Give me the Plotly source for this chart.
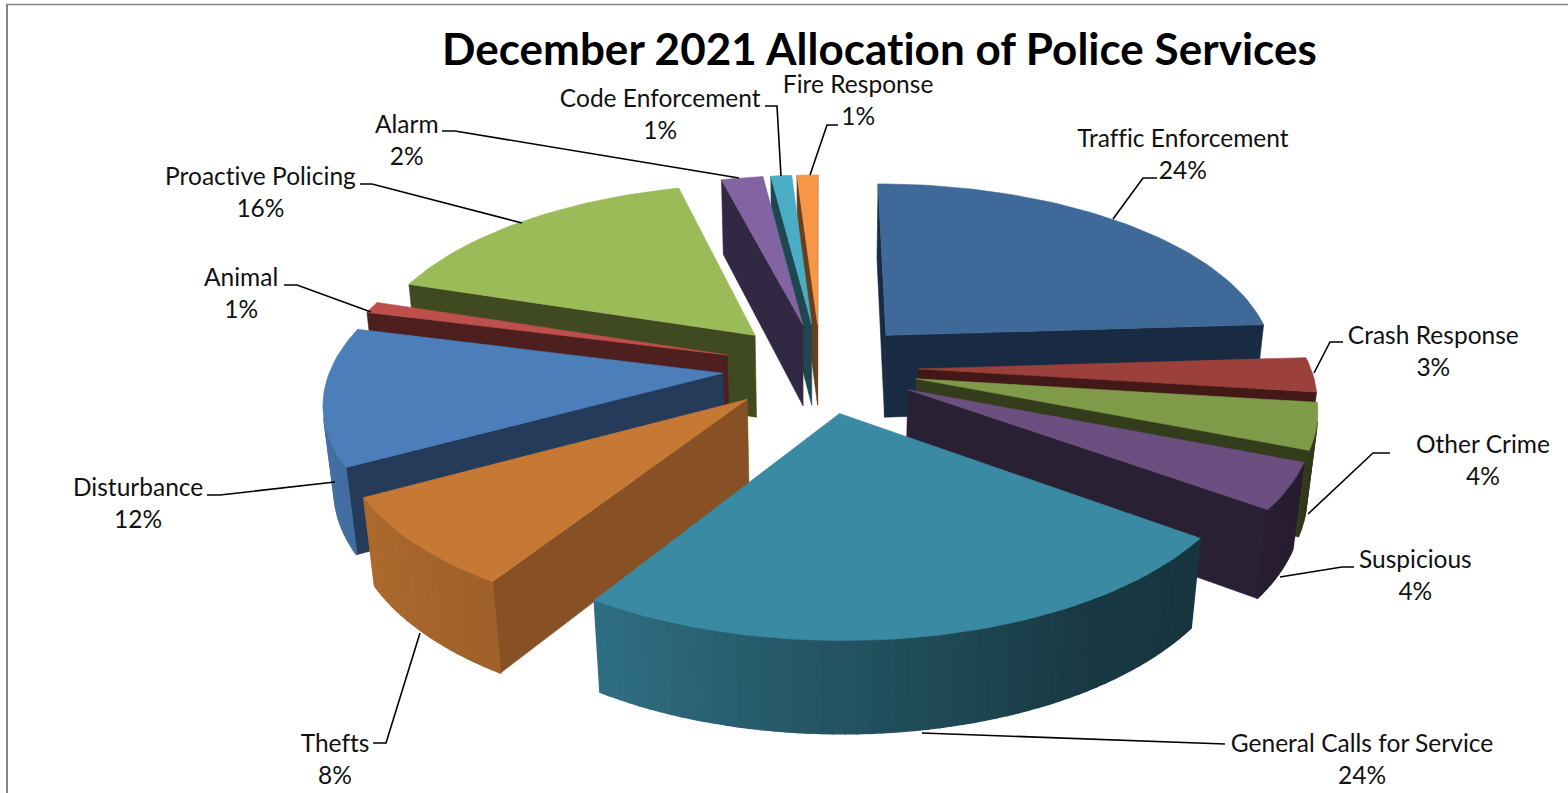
import numpy as np
import plotly.graph_objects as go

# Share of police services per category, clockwise from twelve o'clock
categories = ["Traffic Enforcement", "Crash Response", "Other Crime", "Suspicious",
              "General Calls for Service", "Thefts", "Disturbance", "Animal",
              "Proactive Policing", "Alarm", "Code Enforcement", "Fire Response"]
shares = [24, 3, 4, 4, 24, 8, 12, 1, 16, 2, 1, 1]

# Slice colours: top face and flat radial walls
top_colors = ["#3F6999", "#9C403C", "#7F9A48", "#6A4F80", "#3B8AA3", "#C67934",
              "#4C7EB9", "#BD4F4C", "#9BBB59", "#8164A1", "#4BACC6", "#F79646"]
wall_colors = ["#182B42", "#431918", "#343D1B", "#2A2033", "#17393F", "#875125",
               "#243B5A", "#4D1F1F", "#404A20", "#322843", "#1E4750", "#683F1C"]

# Brightness of the curved rim as it turns around the pie
rim_angle = [0, 90, 126, 150, 180, 212, 241, 284, 360]
rim_light = [.35, .35, .38, .42, .60, .80, .87, .93, .93]

# Projection of the tilted pie onto the page
CX, CY = 820.5, 367.5
AX, AY = 392, 181
DEPTH = 85
PERSP, PERSP_Z = 0.14, 0.022
EXPLODE = 0.25


def project(u, v, z):
    w = 1 + PERSP * v + PERSP_Z * z
    return CX + AX * u / w, CY + (-AY * v + DEPTH * z) / w


def shade(hex_color, f):
    r, g, b = (int(hex_color[i:i + 2], 16) for i in (1, 3, 5))
    return f"rgb({r * f:.0f},{g * f:.0f},{b * f:.0f})"


def signed_area(pts):
    xs, ys = np.array(pts).T
    return 0.5 * np.sum(xs * np.roll(ys, -1) - np.roll(xs, -1) * ys)


def polygon(pts, color, edge=0.6):
    xs, ys = zip(*pts)
    return go.Scatter(x=list(xs) + [xs[0]], y=list(ys) + [ys[0]], mode="lines",
                      fill="toself", fillcolor=color,
                      line=dict(color=color, width=edge),
                      hoverinfo="skip", showlegend=False)


fractions = np.array(shares) / sum(shares)
ends = np.cumsum(fractions) * 360
starts = ends - fractions * 360
mids = (starts + ends) / 2
far_to_near = np.argsort(-np.cos(np.radians(mids)))

fig = go.Figure()

for i in far_to_near:
    t0, t1, tm = starts[i], ends[i], np.radians(mids[i])
    ou, ov = EXPLODE * np.sin(tm), EXPLODE * np.cos(tm)
    thetas = np.linspace(t0, t1, max(2, int((t1 - t0) / 1.5) + 2))
    us = ou + np.sin(np.radians(thetas))
    vs = ov + np.cos(np.radians(thetas))
    apex_t, apex_b = project(ou, ov, 0), project(ou, ov, 1)
    rim_t = [project(u, v, 0) for u, v in zip(us, vs)]
    rim_b = [project(u, v, 1) for u, v in zip(us, vs)]

    # Faces are kept only when they turn towards the viewer
    walls = [[apex_t, rim_t[0], rim_b[0], apex_b],
             [rim_t[-1], apex_t, apex_b, rim_b[-1]]]
    for wall in walls:
        if signed_area(wall) < 0:
            fig.add_trace(polygon(wall, wall_colors[i]))
    for k in range(len(thetas) - 1):
        strip = [rim_t[k], rim_t[k + 1], rim_b[k + 1], rim_b[k]]
        if signed_area(strip) < 0:
            light = np.interp((thetas[k] + thetas[k + 1]) / 2, rim_angle, rim_light)
            fig.add_trace(polygon(strip, shade(top_colors[i], light), edge=1.6))
    fig.add_trace(polygon([apex_t] + rim_t, top_colors[i]))

# Label centres and their leader lines, one entry per category
label_xy = [(1183, 153), (1433, 350), (1483, 459), (1415, 574), (1362, 758), (335, 758),
            (138, 502), (241, 292), (260, 191), (407, 139), (660, 113), (858, 99)]
leaders = [
    [(1157, 178), (1143, 178), (1113, 219)],
    [(1343, 342), (1330, 342), (1314, 373)],
    [(1390, 453), (1373, 453), (1308, 514)],
    [(1354, 567), (1342, 567), (1280, 577)],
    [(1225, 744), (922, 733)],
    [(373, 743), (386, 743), (420, 633)],
    [(207, 495), (220, 495), (335, 482)],
    [(284, 285), (297, 285), (371, 312)],
    [(360, 184), (372, 184), (522, 223)],
    [(442, 131), (455, 131), (739, 178)],
    [(765, 106), (777, 106), (781, 176)],
    [(838, 125), (827, 125), (810, 175)],
]

for path in leaders:
    xs, ys = zip(*path)
    fig.add_trace(go.Scatter(x=xs, y=ys, mode="lines", line=dict(color="black", width=1.6),
                             hoverinfo="skip", showlegend=False))

annotations = [dict(x=x, y=y, text=f"{name}<br>{share}%", showarrow=False,
                    xanchor="center", yanchor="middle", align="center",
                    font=dict(family="Lato", size=24.5, color="#111111"))
               for name, share, (x, y) in zip(categories, shares, label_xy)]
annotations.append(dict(x=879, y=48, text="<b>December 2021 Allocation of Police Services</b>",
                        showarrow=False, xanchor="center", yanchor="middle",
                        font=dict(family="Lato", size=44, color="black")))

fig.update_layout(
    width=1568, height=793, margin=dict(l=0, r=0, t=0, b=0),
    paper_bgcolor="white", plot_bgcolor="white", showlegend=False,
    annotations=annotations,
    xaxis=dict(range=[0, 1568], visible=False, fixedrange=True),
    yaxis=dict(range=[793, 0], visible=False, fixedrange=True),
    shapes=[dict(type="line", xref="x", yref="y", x0=6, x1=1568, y0=4.5, y1=4.5,
                 line=dict(color="#858585", width=1.5)),
            dict(type="line", xref="x", yref="y", x0=7, x1=7, y0=4, y1=793,
                 line=dict(color="#858585", width=2))],
)

# A tiny letter spacing stops the browser joining Lato's ti and ffi into ligatures
no_ligatures = ("var s=document.createElement('style');"
                "s.textContent='.annotation-text,.annotation-text tspan,text"
                "{letter-spacing:0.02px !important}';"
                "document.head.appendChild(s);")
fig.write_html("out.html", post_script=no_ligatures)
